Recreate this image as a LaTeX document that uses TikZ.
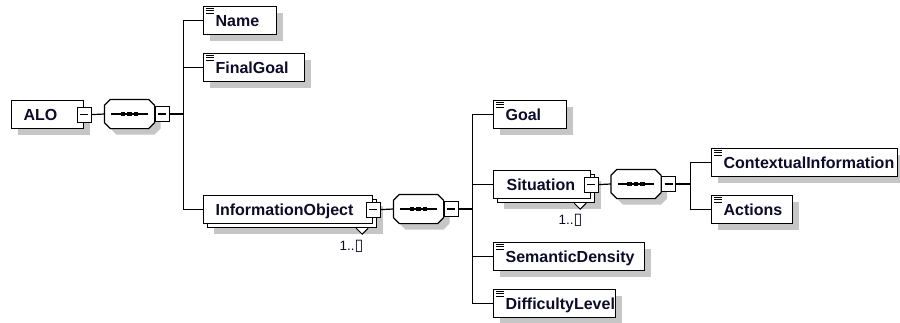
\documentclass[tikz,border=0pt]{standalone}
\usepackage{fontspec}
\setmainfont{Liberation Sans}
\newfontfamily\cardglyphfont{DejaVu Sans}
\usetikzlibrary{calc}
\definecolor{shadowgray}{RGB}{198,198,198}
\definecolor{labeltext}{RGB}{12,12,40}
\newcommand\octpath[1]{($(#1.north west)+(6,0)$) -- ($(#1.north east)+(-6,0)$) -- ($(#1.north east)+(0,6)$) -- ($(#1.south east)+(0,-6)$) -- ($(#1.south east)+(-6,0)$) -- ($(#1.south west)+(6,0)$) -- ($(#1.south west)+(0,-6)$) -- ($(#1.north west)+(0,6)$) -- cycle}
\newcommand\seqglyph[1]{%
  \fill[shadowgray, transform canvas={xshift=6pt,yshift=-6pt}] \octpath{#1};
  \draw[fill=white] \octpath{#1};
  \draw ($(#1.west)+(7,0)$) -- ($(#1.east)+(-7,0)$);
  \foreach \dd in {-6.5,0,6.5} \fill ($(#1.center)+(\dd-2.2,-2.2)$) rectangle ++(4.4,4.4);
}
\newcommand\docicon[1]{\foreach \dy in {2.6,4.8,7.0} \draw[line width=0.9pt] ($(#1.north west)+(3,\dy)$) -- ++(7.5,0);}
\begin{document}
\begin{tikzpicture}[x=1pt,y=-1pt,line width=1.2pt,
  elembase/.style={draw=black, fill=white, rectangle, anchor=north west, inner sep=0pt, text width=#1, text height=20pt, text depth=8pt, align=left, font=\fontsize{16}{19}\selectfont\bfseries, text=labeltext},
  elem/.style={elembase=#1, preaction={draw=none, fill=shadowgray, transform canvas={xshift=6pt,yshift=-6pt}}},
  multielem/.style={elembase=#1, preaction={draw=none, fill=shadowgray, transform canvas={xshift=10pt,yshift=-10pt}}, preaction={draw=black, fill=white, transform canvas={xshift=4pt,yshift=-4pt}}},
  minusbox/.style={draw=black, fill=white, rectangle, minimum width=14pt, minimum height=15pt, inner sep=0pt,
    path picture={\draw[line width=1.1pt] ($(path picture bounding box.west)+(3,0)$) -- ($(path picture bounding box.east)+(-3,0)$);}},
  seqnode/.style={rectangle, minimum width=49pt, minimum height=28pt, inner sep=0pt},
  cardtext/.style={font=\fontsize{13.5}{15}\selectfont, text=labeltext, inner sep=0pt, anchor=east},
  cardmark/.style={fill=white, line width=1pt}
]
\fill[white] (0,0) rectangle (900,322);
\useasboundingbox (0,0) rectangle (900,322);

% root
\node[elem=72pt] (alo) at (11,100) {\hspace*{12pt}\mbox{ALO}};
\node[seqnode] (s1) at (129.5,114) {};
\seqglyph{s1}
\node[minusbox] (aloM) at (alo.east) {};
\node[minusbox, anchor=west] (s1M) at (s1.east) {};

% level 1
\node[elem=73pt] (name) at (203,6) {\hspace*{12pt}\mbox{Name}};
\docicon{name}
\node[elem=101pt] (finalgoal) at (203,53) {\hspace*{12pt}\mbox{FinalGoal}};
\docicon{finalgoal}
\node[multielem=169pt] (infoobj) at (203,195) {\hspace*{12pt}\mbox{InformationObject}};
\draw[cardmark] ($(infoobj.south east)+(-17,4)$) -- ++(6,6) -- ++(6,-6);
\node[minusbox] (infoobjM) at (infoobj.east) {};
\node[cardtext] (infoobjCard) at (364,246) {1..{\cardglyphfont\fontsize{16}{16}\selectfont ▯}};
\node[seqnode] (s2) at (418.5,209) {};
\seqglyph{s2}
\node[minusbox, anchor=west] (s2M) at (s2.east) {};

% level 2
\node[elem=73pt] (goal) at (493,100) {\hspace*{12pt}\mbox{Goal}};
\docicon{goal}
\node[multielem=97pt] (situation) at (493,170) {\hspace*{13pt}\mbox{Situation}};
\draw[cardmark] ($(situation.south east)+(-17,4)$) -- ++(6,6) -- ++(6,-6);
\node[minusbox] (situationM) at (situation.east) {};
\node[cardtext] (situationCard) at (583,220) {1..{\cardglyphfont\fontsize{16}{16}\selectfont ▯}};
\node[seqnode] (s3) at (636,184) {};
\seqglyph{s3}
\node[minusbox, anchor=west] (s3M) at (s3.east) {};
\node[elem=151pt] (semdens) at (493,242) {\hspace*{12pt}\mbox{SemanticDensity}};
\docicon{semdens}
\node[elem=122pt] (difflevel) at (493,289) {\hspace*{12pt}\mbox{DifficultyLevel}};
\docicon{difflevel}

% level 3
\node[elem=186pt] (ctxinfo) at (711,148) {\hspace*{12pt}\mbox{ContextualInformation}};
\docicon{ctxinfo}
\node[elem=81pt] (actions) at (711,195) {\hspace*{12pt}\mbox{Actions}};
\docicon{actions}

% connectors
\draw (aloM.east) -- (s1.west);
\draw (s1M.east) -- ++(14,0) coordinate (b1);
\draw (b1) |- (name.west);
\draw (b1) |- (finalgoal.west);
\draw (b1) |- (infoobj.west);
\draw (infoobjM.east) -- (s2.west);
\draw (s2M.east) -- ++(14,0) coordinate (b2);
\draw (b2) |- (goal.west);
\draw (b2) |- (situation.west);
\draw (b2) |- (semdens.west);
\draw (b2) |- (difflevel.west);
\draw (situationM.east) -- (s3.west);
\draw (s3M.east) -- ++(14,0) coordinate (b3);
\draw (b3) |- (ctxinfo.west);
\draw (b3) |- (actions.west);
\end{tikzpicture}
\end{document}
